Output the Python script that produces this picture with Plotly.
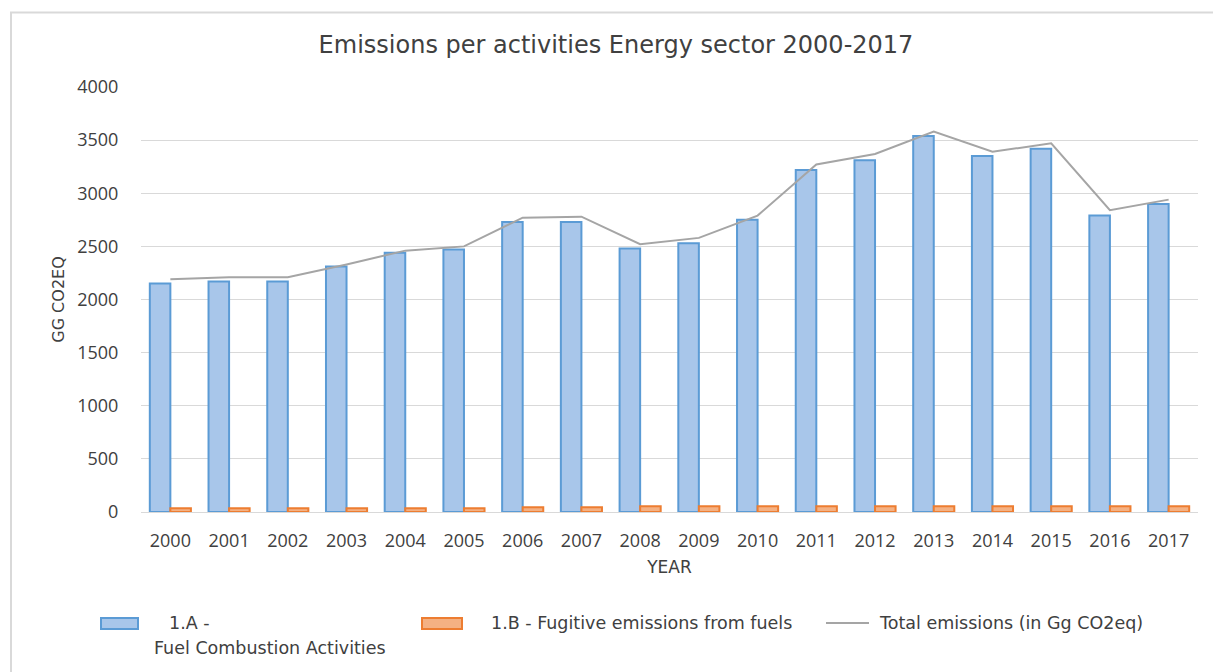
import plotly.graph_objects as go

# Energy sector emissions, Gg CO2eq
years = [str(y) for y in range(2000, 2018)]
fuel_combustion = [2150, 2170, 2170, 2310, 2440, 2470, 2730, 2730, 2480,
                   2530, 2750, 3220, 3310, 3540, 3350, 3420, 2790, 2900]
fugitive = [35, 35, 35, 35, 35, 35, 45, 45, 55,
            55, 55, 55, 55, 55, 55, 55, 55, 55]
total = [2190, 2210, 2210, 2330, 2460, 2500, 2770, 2780, 2520,
         2580, 2790, 3270, 3370, 3580, 3390, 3470, 2840, 2940]

y_ticks = [0, 500, 1000, 1500, 2000, 2500, 3000, 3500, 4000]

W, H = 1213, 672
ML, MR, MT, MB = 141, 15, 87, 160
PW, PH = W - ML - MR, H - MT - MB

TEXT = "#404040"
FONT = "Open Sans"
WIDE = "DejaVu Sans"


def px(x):
    return (x - ML) / PW


def py(y):
    return (H - MB - y) / PH


fig = go.Figure()
fig.add_trace(go.Bar(
    x=years, y=fuel_combustion, name="1.A - Fuel Combustion Activities",
    marker=dict(color="#a8c6ea", line=dict(color="#5b9bd5", width=2)),
))
fig.add_trace(go.Bar(
    x=years, y=fugitive, name="1.B - Fugitive emissions from fuels",
    marker=dict(color="#f4b183", line=dict(color="#ed7d31", width=2)),
))
fig.add_trace(go.Scatter(
    x=years, y=total, name="Total emissions (in Gg CO2eq)",
    mode="lines", line=dict(color="#a5a5a5", width=2),
))

shapes = [
    # chart frame
    dict(type="rect", xref="paper", yref="paper",
         x0=px(11), x1=px(W + 20), y0=py(H + 20), y1=py(12.5),
         line=dict(color="#d9d9d9", width=2), fillcolor="rgba(0,0,0,0)",
         layer="below"),
    # legend swatches
    dict(type="rect", xref="paper", yref="paper",
         x0=px(101), x1=px(138), y0=py(629), y1=py(618),
         line=dict(color="#5b9bd5", width=2), fillcolor="#a8c6ea"),
    dict(type="rect", xref="paper", yref="paper",
         x0=px(422), x1=px(462), y0=py(629), y1=py(618),
         line=dict(color="#ed7d31", width=2), fillcolor="#f4b183"),
    dict(type="line", xref="paper", yref="paper",
         x0=px(826), x1=px(869), y0=py(623), y1=py(623),
         line=dict(color="#a5a5a5", width=2)),
]

legend_texts = [
    (167, 623, "1.A -"),
    (152, 648, "Fuel Combustion Activities"),
    (489, 623, "1.B - Fugitive emissions from fuels"),
    (877, 623, "Total emissions (in Gg CO2eq)"),
]
annotations = [
    dict(text=t, x=px(x), y=py(y), xref="paper", yref="paper",
         xanchor="left", yanchor="middle", showarrow=False,
         font=dict(family=WIDE, size=17.5, color=TEXT))
    for x, y, t in legend_texts
]

fig.update_layout(
    width=W, height=H,
    margin=dict(l=ML, r=MR, t=MT, b=MB, pad=0),
    paper_bgcolor="white", plot_bgcolor="white",
    barmode="group", bargap=0.3, bargroupgap=0,
    showlegend=False,
    title=dict(text="Emissions per activities Energy sector 2000-2017",
               xref="container", x=616 / W, xanchor="center",
               yref="container", y=1 - 45 / H, yanchor="middle",
               font=dict(family=WIDE, size=24, color=TEXT)),
    font=dict(family=FONT, color=TEXT),
    shapes=shapes,
    annotations=annotations,
)

fig.update_xaxes(
    type="category", showgrid=False, showline=False, zeroline=False,
    ticks="outside", ticklen=12, tickcolor="rgba(0,0,0,0)",
    tickfont=dict(family=FONT, size=18, color=TEXT),
    title=dict(text="YEAR", standoff=10,
               font=dict(family=WIDE, size=17, color=TEXT)),
)
fig.update_yaxes(
    range=[0, 4000], tickvals=y_ticks, ticktext=[str(v) for v in y_ticks],
    showgrid=True, gridcolor="#d9d9d9", gridwidth=1,
    zeroline=True, zerolinecolor="#d9d9d9", zerolinewidth=1,
    showline=False,
    ticks="outside", ticklen=18, tickcolor="rgba(0,0,0,0)",
    tickfont=dict(family=FONT, size=18, color=TEXT),
    title=dict(text="GG CO2EQ", standoff=8,
               font=dict(family=WIDE, size=16, color=TEXT)),
)

fig.write_html("out.html")
